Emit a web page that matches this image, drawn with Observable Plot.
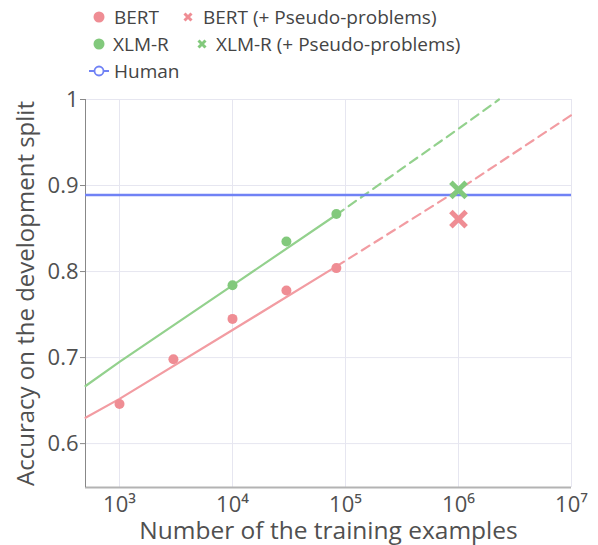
<!DOCTYPE html>
<html>
<head>
<meta charset="utf-8">
<script src="https://cdn.jsdelivr.net/npm/d3@7"></script>
<script src="https://cdn.jsdelivr.net/npm/@observablehq/plot@0.6"></script>
<style>
  body { margin: 0; background: #fff; font-family: "Open Sans", sans-serif; }
  #legend { position: relative; width: 598px; height: 78px; color: #444; font-size: 19px; }
  .it { position: absolute; line-height: 22px; white-space: nowrap; }
  .sym { position: absolute; }
  #chart svg { display: block; overflow: visible; }
</style>
</head>
<body>
<div id="legend"></div>
<div id="chart"></div>
<script>
// ---- data ----
const bertX = [1000, 3000, 10000, 30000, 83000];
const bertAcc = [0.646, 0.698, 0.745, 0.778, 0.804];
const xlmrX = [10000, 30000, 83000];
const xlmrAcc = [0.784, 0.835, 0.867];
const pseudoModel = ["BERT", "XLM-R"];
const pseudoX = [1e6, 1e6];
const pseudoAcc = [0.861, 0.895];
const humanAcc = 0.889;
// fitted trend curves (solid over observed range, dashed extrapolation)
const bertFitX = [500, 1000, 10000, 83000, 1e6, 1e7];
const bertFitAcc = [0.630, 0.652, 0.732, 0.806, 0.895, 0.982];
const bertFitPart = ["solid", "solid", "solid", "solid", "dashed", "dashed"];
const xlmrFitX = [500, 1000, 10000, 83000, 1e6, 2.28e6];
const xlmrFitAcc = [0.667, 0.695, 0.784, 0.866, 0.966, 1.0];
const xlmrFitPart = ["solid", "solid", "solid", "solid", "dashed", "dashed"];
const xTicks = [1e3, 1e4, 1e5, 1e6, 1e7];
const xTickLabels = ["10³", "10⁴", "10⁵", "10⁶", "10⁷"];
const yTicks = [0.6, 0.7, 0.8, 0.9, 1];
const yTickLabels = ["0.6", "0.7", "0.8", "0.9", "1"];
const xDomain = [500, 1e7];
const yDomain = [0.549, 1];
const legendLabels = ["BERT", "BERT (+ Pseudo-problems)", "XLM-R", "XLM-R (+ Pseudo-problems)", "Human"];
const xTitle = "Number of the training examples";
const yTitle = "Accuracy on the development split";

const RED = "#ef8d94", RED_L = "#f29ca2";
const GREEN = "#82c97c", GREEN_L = "#93d18d";
const BLUE = "#7082f5";

// ---- build tables ----
const bertPts = bertX.map((x, i) => ({x, y: bertAcc[i]}));
const xlmrPts = xlmrX.map((x, i) => ({x, y: xlmrAcc[i]}));
const pseudo = pseudoX.map((x, i) => ({x, y: pseudoAcc[i], model: pseudoModel[i]}));
function part(xs, ys, parts, kind) {
  const out = [];
  for (let i = 0; i < xs.length; i++) if (parts[i] === kind) out.push({x: xs[i], y: ys[i]});
  return out;
}
const bertSolid = part(bertFitX, bertFitAcc, bertFitPart, "solid");
const bertDash = [bertSolid[bertSolid.length - 1], ...part(bertFitX, bertFitAcc, bertFitPart, "dashed")];
const xlmrSolid = part(xlmrFitX, xlmrFitAcc, xlmrFitPart, "solid");
const xlmrDash = [xlmrSolid[xlmrSolid.length - 1], ...part(xlmrFitX, xlmrFitAcc, xlmrFitPart, "dashed")];

const plot = Plot.plot({
  width: 598,
  height: 467,
  marginTop: 21,
  marginBottom: 58,
  marginLeft: 85,
  marginRight: 27,
  style: {fontFamily: "'Open Sans', sans-serif", background: "#fff", overflow: "visible"},
  x: {type: "log", domain: xDomain},
  y: {domain: yDomain},
  marks: [
    Plot.gridX(xTicks, {stroke: "#e6e6f0", strokeOpacity: 1, strokeWidth: 1}),
    Plot.gridY(yTicks, {stroke: "#e6e6f0", strokeOpacity: 1, strokeWidth: 1}),
    Plot.ruleY([yDomain[0]], {stroke: "#b3b3b3", strokeWidth: 2}),
    Plot.ruleX([xDomain[0]], {stroke: "#888", strokeWidth: 1}),
    Plot.axisX(xTicks, {tickSize: 0, tickPadding: 9, fontSize: 22, fill: "#505050",
      tickFormat: d => xTickLabels[xTicks.indexOf(d)], label: null}),
    Plot.axisY(yTicks, {tickSize: 5, tickPadding: 2, fontSize: 22, fill: "#505050", stroke: "#888",
      tickFormat: d => yTickLabels[yTicks.indexOf(d)], label: null}),
    Plot.line(xlmrSolid, {x: "x", y: "y", stroke: GREEN_L, strokeWidth: 2.2}),
    Plot.line(xlmrDash, {x: "x", y: "y", stroke: GREEN_L, strokeWidth: 2.2, strokeDasharray: "9,6"}),
    Plot.line(bertSolid, {x: "x", y: "y", stroke: RED_L, strokeWidth: 2.2}),
    Plot.line(bertDash, {x: "x", y: "y", stroke: RED_L, strokeWidth: 2.2, strokeDasharray: "9,6"}),
    Plot.ruleY([humanAcc], {stroke: BLUE, strokeWidth: 2.5}),
    Plot.dot(bertPts, {x: "x", y: "y", r: 5, fill: RED, stroke: "none"}),
    Plot.dot(xlmrPts, {x: "x", y: "y", r: 5, fill: GREEN, stroke: "none"}),
    Plot.dot(pseudo, {x: "x", y: "y", symbol: "times", r: 7, strokeWidth: 5,
      stroke: d => d.model === "BERT" ? RED : GREEN, fill: "none"}),
    Plot.text([yTitle], {frameAnchor: "left", textAnchor: "middle", lineAnchor: "middle", rotate: -90, dx: -59, fontSize: 24, fill: "#505050"}),
    Plot.text([xTitle], {frameAnchor: "bottom", textAnchor: "middle", lineAnchor: "middle", dy: 44, fontSize: 24.5, fill: "#505050"})
  ]
});
document.getElementById("chart").appendChild(plot);

// ---- legend ----
const legend = document.getElementById("legend");
const items = [
  {label: legendLabels[0], sym: "dot", color: RED, sx: 99, tx: 114, cy: 17},
  {label: legendLabels[1], sym: "x", color: RED, sx: 188, tx: 203, cy: 17},
  {label: legendLabels[2], sym: "dot", color: GREEN, sx: 99, tx: 113, cy: 44},
  {label: legendLabels[3], sym: "x", color: GREEN, sx: 202, tx: 216, cy: 44},
  {label: legendLabels[4], sym: "line", color: BLUE, sx: 99, tx: 114, cy: 71}
];
for (const it of items) {
  const s = document.createElementNS("http://www.w3.org/2000/svg", "svg");
  s.setAttribute("width", 24); s.setAttribute("height", 20);
  s.setAttribute("class", "sym");
  s.style.left = (it.sx - 12) + "px"; s.style.top = (it.cy - 10) + "px";
  if (it.sym === "dot") {
    s.innerHTML = `<circle cx="12" cy="10" r="5.5" fill="${it.color}"/>`;
  } else if (it.sym === "x") {
    s.innerHTML = `<path d="M8.5,6.5L15.5,13.5M15.5,6.5L8.5,13.5" stroke="${it.color}" stroke-width="3"/>`;
  } else {
    s.innerHTML = `<line x1="2" y1="10" x2="22" y2="10" stroke="${it.color}" stroke-width="2"/><circle cx="12" cy="10" r="4.5" fill="#fff" stroke="${it.color}" stroke-width="1.8"/>`;
  }
  legend.appendChild(s);
  const t = document.createElement("div");
  t.className = "it";
  t.textContent = it.label;
  t.style.left = it.tx + "px";
  t.style.top = (it.cy - 11) + "px";
  legend.appendChild(t);
}
</script>
</body>
</html>
